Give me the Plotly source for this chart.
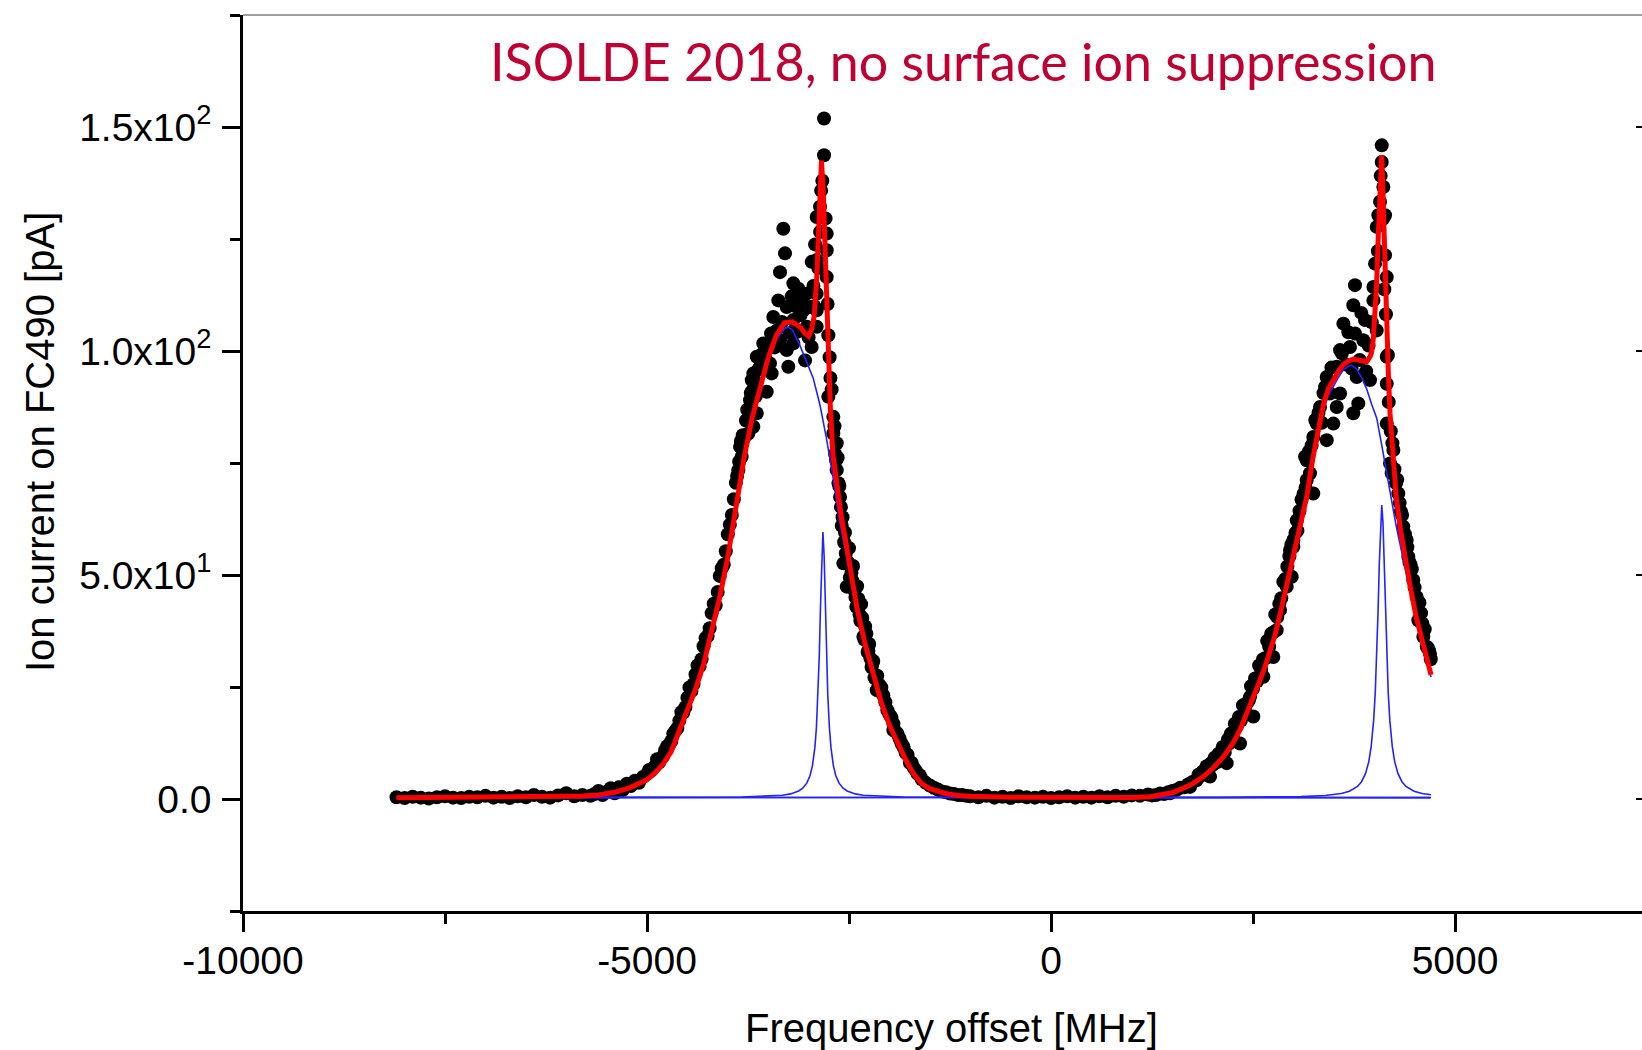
import plotly.graph_objects as go

# ---------------- measured scan (frequency offset MHz, ion current pA) ----------------
scan_left_baseline = [
    (-8100, 0.4), (-8000, 0.2), (-7900, 0.5), (-7800, 0.3), (-7700, 0.1), (-7600, 0.4),
    (-7500, 0.6), (-7400, 0.3), (-7300, 0.2), (-7200, 0.5), (-7100, 0.4), (-7000, 0.7),
    (-6900, 0.3), (-6800, 0.5), (-6700, 0.2), (-6600, 0.6), (-6500, 0.4), (-6400, 0.9),
    (-6300, 0.5), (-6200, 0.3), (-6100, 0.8), (-6000, 1.3), (-5900, 0.6), (-5800, 0.9),
    (-5700, 0.7),
]
scan_left_peak = [
    (-5650, 1.1), (-5600, 1.8), (-5550, 0.9), (-5500, 1.6), (-5450, 2.4), (-5400, 1.3),
    (-5350, 2.6), (-5300, 2.0), (-5250, 3.4), (-5200, 2.9), (-5150, 4.1), (-5100, 3.6),
    (-5050, 4.9), (-5000, 5.6), (-4950, 6.3), (-4900, 7.4), (-4850, 8.2), (-4800, 9.6),
    (-4750, 11.8), (-4700, 12.9), (-4650, 15.2), (-4600, 17.5), (-4550, 19.3), (-4500, 22.6),
    (-4450, 24.1), (-4400, 27.8), (-4350, 29.6), (-4300, 34.1), (-4250, 36.4), (-4200, 41.5),
    (-4150, 43.2), (-4100, 49.8), (-4050, 52.3), (-4000, 59.1), (-3950, 63.4), (-3900, 70.6),
    (-3870, 73.4), (-3849, 78.6), (-3828, 76.4), (-3800, 80.5), (-3746, 81.6), (-3725, 89.0),
    (-3704, 93.5), (-3684, 83.1), (-3684, 95.0), (-3642, 86.1), (-3642, 98.7), (-3600, 96.5),
    (-3561, 101.7), (-3519, 90.9), (-3478, 97.2), (-3457, 95.0), (-3437, 107.6), (-3400, 104.5),
    (-3375, 111.3), (-3354, 102.4), (-3354, 117.6), (-3313, 127.3), (-3292, 121.8), (-3271, 100.2),
    (-3271, 109.8), (-3251, 96.5), (-3230, 104.0), (-3189, 101.7), (-3189, 106.9), (-3189, 115.1),
    (-3160, 110.0), (-3127, 113.9), (-3100, 108.0), (-3065, 109.1), (-3044, 97.9), (-3023, 105.4),
    (-3023, 112.8), (-3000, 103.0), (-2962, 100.9), (-2962, 119.9), (-2930, 110.0), (-2900, 105.4),
    (-2900, 109.1), (-2900, 112.8), (-2900, 120.3), (-2900, 129.9), (-2859, 126.6), (-2859, 132.2),
    (-2830, 138.0), (-2809, 143.7), (-2809, 151.9), (-2776, 116.5), (-2776, 122.5), (-2776, 126.2),
    (-2756, 103.5), (-2756, 89.8), (-2730, 94.0), (-2694, 85.3), (-2694, 81.6), (-2673, 77.1),
    (-2652, 79.4), (-2652, 73.4), (-2630, 70.5), (-2611, 67.4), (-2590, 61.0), (-2570, 52.6),
    (-2550, 59.5), (-2528, 47.4), (-2500, 56.0), (-2470, 50.5), (-2450, 52.0), (-2420, 45.0),
    (-2400, 47.5), (-2370, 41.2), (-2350, 43.5), (-2322, 36.2), (-2300, 38.5), (-2270, 32.8),
    (-2250, 34.6), (-2220, 29.4), (-2200, 30.8), (-2157, 24.3), (-2150, 27.5), (-2100, 24.9),
    (-2050, 21.6), (-2000, 18.9), (-1952, 15.4), (-1950, 16.8), (-1900, 14.6), (-1850, 12.4),
    (-1800, 10.3), (-1745, 8.0), (-1700, 7.0), (-1650, 5.6), (-1600, 4.4), (-1550, 3.6),
    (-1500, 3.0), (-1450, 2.5), (-1400, 2.1), (-1350, 1.7), (-1300, 1.5), (-1250, 1.2),
    (-1200, 1.1), (-1150, 0.9), (-1100, 0.9), (-1050, 0.7),
]
scan_left_peak_fill = [
    (-4975, 6.5), (-4925, 6.9), (-4875, 8.9), (-4825, 9.1), (-4775, 10.9), (-4725, 12.1),
    (-4675, 14.6), (-4625, 15.8), (-4575, 19.4), (-4525, 20.5), (-4475, 24.9), (-4425, 25.6),
    (-4375, 29.8), (-4325, 31.2), (-4275, 35.9), (-4225, 38.1), (-4175, 43.6), (-4125, 46.2),
    (-4075, 51.5), (-4025, 55.3), (-3975, 61.2), (-3925, 66.9), (-3885, 72.1), (-3860, 75.3),
    (-3838, 79.9), (-3815, 81.2), (-3775, 84.5), (-3760, 86.9), (-3735, 85.7), (-3715, 90.6),
    (-3695, 91.2), (-3670, 93.4), (-3655, 89.9), (-3625, 95.8), (-3585, 99.2), (-3540, 98.4),
    (-3500, 101.3), (-3465, 103.9), (-3420, 100.8), (-3330, 106.5), (-3210, 112.2), (-3140, 104.3),
    (-3085, 111.6), (-2985, 109.8), (-2940, 114.5), (-2920, 123.8), (-2880, 118.5), (-2845, 135.8),
    (-2790, 129.6), (-2765, 110.5), (-2740, 98.6), (-2715, 91.4), (-2680, 83.2), (-2660, 75.6),
    (-2640, 76.2), (-2620, 69.8), (-2600, 65.2), (-2580, 62.9), (-2560, 57.3), (-2540, 54.8),
    (-2515, 52.9), (-2490, 49.4), (-2460, 48.8), (-2435, 46.6), (-2410, 42.9), (-2385, 44.7),
    (-2360, 39.8), (-2335, 40.4), (-2310, 35.6), (-2285, 36.9), (-2260, 33.1), (-2235, 31.4),
    (-2210, 30.3), (-2185, 27.1), (-2170, 26.8), (-2125, 25.5), (-2075, 23.1), (-2025, 19.8),
    (-1975, 18.2), (-1925, 15.1), (-1875, 13.5), (-1825, 11.6), (-1775, 9.9), (-1725, 8.1),
    (-1675, 6.4), (-1625, 5.3),
]
scan_middle_baseline = [
    (-1000, 0.6), (-900, 0.4), (-800, 0.7), (-700, 0.3), (-600, 0.5), (-500, 0.2),
    (-400, 0.6), (-300, 0.4), (-200, 0.3), (-100, 0.5), (0, 0.2), (100, 0.4),
    (200, 0.6), (300, 0.3), (400, 0.5), (500, 0.3), (600, 0.6), (700, 0.4),
    (800, 0.7), (900, 0.5), (1000, 0.8), (1100, 0.7), (1200, 1.0),
]
scan_right_peak = [
    (1250, 0.8), (1300, 0.9), (1350, 1.2), (1400, 1.1), (1450, 1.5), (1473, 1.3),
    (1500, 1.8), (1550, 2.0), (1600, 2.5), (1650, 2.6), (1700, 3.3), (1720, 2.7),
    (1750, 3.8), (1800, 4.2), (1850, 5.1), (1900, 5.6), (1950, 6.7), (1968, 5.0),
    (2000, 7.6), (2050, 8.2), (2100, 9.7), (2150, 10.4), (2174, 8.0), (2200, 12.3),
    (2250, 13.9), (2300, 16.2), (2339, 12.4), (2350, 17.5), (2400, 19.8), (2450, 22.1),
    (2463, 22.8), (2500, 24.6), (2504, 18.4), (2550, 26.3), (2600, 28.9), (2628, 27.3),
    (2650, 31.4), (2700, 34.0), (2751, 31.7), (2750, 37.2), (2793, 37.7), (2800, 40.6),
    (2834, 42.2), (2850, 44.8), (2900, 49.1), (2917, 47.4), (2950, 54.2), (2958, 55.6),
    (2979, 49.6), (2999, 57.8), (3000, 56.3), (3041, 62.2), (3050, 59.9), (3100, 66.8),
    (3144, 76.4), (3150, 69.5), (3164, 75.6), (3164, 71.2), (3205, 72.7), (3246, 80.8),
    (3246, 68.2), (3288, 83.8), (3329, 87.5), (3350, 84.0), (3391, 92.0), (3412, 94.2),
    (3412, 80.1), (3450, 90.5), (3494, 83.8), (3536, 96.5), (3536, 87.5), (3577, 100.2),
    (3577, 90.5), (3618, 106.1), (3650, 97.0), (3700, 100.9), (3741, 110.2), (3741, 86.1),
    (3762, 114.7), (3762, 103.9), (3783, 94.2), (3803, 88.3), (3820, 98.0), (3865, 102.4),
    (3886, 106.9), (3900, 95.5), (3948, 93.5), (3990, 114.3), (3990, 111.3), (4010, 119.5),
    (4031, 127.7), (4031, 104.6), (4051, 130.3), (4072, 133.3), (4093, 142.2), (4093, 145.9),
    (4113, 136.6), (4134, 130.3), (4134, 121.4), (4155, 116.5), (4155, 98.7), (4155, 92.7),
    (4155, 83.8), (4196, 74.9), (4216, 72.7), (4237, 77.9), (4270, 70.5), (4298, 68.2),
    (4330, 64.2), (4360, 60.8), (4402, 57.8), (4422, 54.1), (4450, 52.3), (4484, 48.9),
    (4526, 45.1), (4546, 39.9), (4580, 41.5), (4608, 36.2), (4650, 34.0), (4680, 33.1),
    (4700, 31.2),
]
scan_right_peak_fill = [
    (1825, 5.4), (1875, 6.1), (1925, 7.3), (1975, 7.9), (2025, 9.2), (2075, 10.1),
    (2125, 11.6), (2190, 13.3), (2225, 14.6), (2275, 16.8), (2325, 18.3), (2375, 20.9),
    (2425, 21.4), (2475, 25.2), (2525, 26.9), (2575, 29.8), (2625, 31.2), (2675, 35.3),
    (2725, 36.9), (2775, 41.2), (2825, 43.6), (2875, 48.5), (2925, 51.9), (2975, 56.8),
    (3025, 59.4), (3075, 64.3), (3125, 68.1), (3190, 77.5), (3225, 78.9), (3270, 84.6),
    (3310, 86.2), (3372, 90.6), (3470, 96.3), (3600, 99.5), (3680, 104.2), (3720, 96.1),
    (3840, 108.5), (3930, 101.2), (3970, 106.4), (4045, 122.3), (4080, 139.1), (4110, 129.5),
    (4125, 113.8), (4145, 108.2), (4170, 99.1), (4180, 88.6), (4205, 82.1), (4225, 79.4),
    (4250, 73.6), (4285, 71.3), (4315, 66.1), (4345, 63.4), (4380, 59.1), (4410, 56.2),
    (4435, 52.9), (4465, 51.3), (4500, 47.2), (4560, 43.8), (4595, 39.2), (4625, 37.9),
    (4665, 33.7), (4690, 32.4),
]

# ---------------- total fit (red) ----------------
fit_total = [
    (-8100, 0.3), (-7000, 0.35), (-6500, 0.4), (-6000, 0.5), (-5800, 0.65), (-5600, 0.9),
    (-5400, 1.5), (-5200, 2.6), (-5000, 4.3), (-4900, 5.8), (-4800, 7.8), (-4700, 10.6),
    (-4600, 15.0), (-4500, 19.5), (-4400, 24.5), (-4300, 30.0), (-4200, 37.0), (-4100, 45.0),
    (-4000, 54.0), (-3900, 65.0), (-3800, 76.0), (-3700, 85.0), (-3600, 92.0), (-3500, 98.5),
    (-3400, 103.5), (-3300, 106.3), (-3200, 106.5), (-3100, 105.3), (-3050, 104.0), (-3000, 103.3),
    (-2960, 105.0), (-2930, 108.0), (-2900, 116.0), (-2880, 126.0), (-2860, 136.0), (-2841, 142.5),
    (-2820, 136.0), (-2800, 124.0), (-2779, 108.5), (-2755, 96.0), (-2730, 87.0), (-2700, 77.0),
    (-2650, 69.5), (-2600, 63.5), (-2550, 58.5), (-2500, 53.0), (-2400, 42.5), (-2300, 34.5),
    (-2200, 27.5), (-2100, 21.5), (-2000, 16.5), (-1900, 12.6), (-1800, 8.8), (-1700, 5.6),
    (-1600, 3.4), (-1500, 2.3), (-1400, 1.6), (-1300, 1.2), (-1150, 0.8), (-1000, 0.6),
    (-500, 0.4), (0, 0.3), (500, 0.3), (1000, 0.35), (1225, 0.5), (1400, 1.0),
    (1500, 1.4), (1637, 2.4), (1750, 3.4), (1885, 5.0), (2000, 6.8), (2132, 9.4),
    (2250, 12.4), (2339, 15.4), (2420, 18.8), (2504, 22.6), (2580, 26.2), (2648, 29.5),
    (2710, 32.8), (2772, 36.5), (2855, 42.8), (2930, 48.5), (2999, 54.1), (3102, 61.5),
    (3164, 67.4), (3240, 76.0), (3308, 82.4), (3370, 88.0), (3430, 91.5), (3494, 93.8),
    (3560, 95.6), (3618, 97.0), (3680, 97.8), (3741, 98.2), (3800, 98.0), (3845, 97.8),
    (3907, 97.6), (3950, 98.8), (3969, 99.8), (3990, 103.0), (4010, 107.6), (4030, 115.0),
    (4051, 126.0), (4072, 137.0), (4093, 143.7), (4107, 136.0), (4121, 126.0), (4138, 114.0),
    (4155, 104.0), (4175, 95.0), (4196, 86.0), (4237, 75.0), (4271, 67.5), (4330, 59.5),
    (4395, 52.3), (4450, 47.0), (4518, 40.7), (4600, 34.5), (4650, 31.0), (4703, 27.7),
]

# ---------------- fit components (blue) ----------------
comp_left_broad = [
    (-8100, 0.3), (-6500, 0.38), (-6000, 0.45), (-5600, 0.75), (-5400, 1.3), (-5200, 2.4),
    (-5000, 4.1), (-4900, 5.5), (-4800, 7.5), (-4700, 10.3), (-4600, 14.6), (-4500, 19.1),
    (-4400, 24.1), (-4300, 29.6), (-4200, 36.5), (-4100, 44.5), (-4000, 53.5), (-3900, 64.5),
    (-3800, 75.4), (-3700, 84.4), (-3600, 91.3), (-3500, 97.7), (-3400, 102.5), (-3300, 105.0),
    (-3250, 105.3), (-3200, 104.7), (-3109, 101.3), (-3030, 98.0), (-2944, 94.0), (-2860, 88.0),
    (-2779, 80.5), (-2700, 72.0), (-2615, 62.0), (-2512, 52.3), (-2400, 41.4), (-2300, 33.8),
    (-2200, 27.0), (-2100, 21.1), (-2000, 16.2), (-1900, 12.3), (-1800, 8.5), (-1700, 5.4),
    (-1600, 3.2), (-1500, 2.1), (-1400, 1.4), (-1300, 1.0), (-1000, 0.5), (-500, 0.35),
    (0, 0.3), (4700, 0.3),
]
comp_left_narrow = [
    (-8100, 0.31), (-6000, 0.32), (-4800, 0.33), (-3823, 0.44), (-3323, 0.84), (-3223, 1.14),
    (-3123, 1.78), (-3073, 2.41), (-3023, 3.53), (-2983, 5.2), (-2953, 7.4), (-2923, 11.4),
    (-2903, 16.0), (-2883, 23.4), (-2868, 31.9), (-2853, 43.0), (-2838, 54.3), (-2823, 59.6),
    (-2808, 54.3), (-2793, 43.0), (-2778, 31.9), (-2763, 23.4), (-2743, 16.0), (-2723, 11.4),
    (-2693, 7.4), (-2663, 5.2), (-2623, 3.53), (-2573, 2.41), (-2523, 1.78), (-2423, 1.14),
    (-2323, 0.84), (-1823, 0.44), (-800, 0.34), (4700, 0.31),
]
comp_right_broad = [
    (-8100, 0.3), (0, 0.3), (800, 0.35), (1225, 0.5), (1400, 0.95), (1637, 2.3),
    (1885, 4.8), (2132, 9.2), (2339, 15.2), (2504, 22.4), (2648, 29.3), (2772, 36.3),
    (2855, 42.5), (2930, 48.0), (2999, 53.5), (3102, 60.8), (3164, 66.5), (3240, 75.0),
    (3308, 81.3), (3370, 86.7), (3430, 90.0), (3494, 92.2), (3560, 94.2), (3618, 95.8),
    (3680, 96.6), (3720, 96.8), (3783, 96.0), (3850, 93.8), (3907, 91.5), (3970, 88.0),
    (4031, 85.0), (4093, 79.0), (4155, 72.5), (4210, 66.5), (4271, 61.0), (4330, 56.0),
    (4395, 50.5), (4450, 45.5), (4518, 39.8), (4610, 33.0), (4703, 27.2),
]
comp_right_narrow = [
    (-8100, 0.31), (0, 0.33), (2093, 0.36), (3093, 0.53), (3393, 0.78), (3593, 1.23),
    (3693, 1.74), (3793, 2.81), (3843, 3.86), (3893, 5.7), (3933, 8.35), (3963, 11.8),
    (3993, 17.6), (4013, 23.8), (4033, 32.95), (4048, 42.1), (4063, 52.5), (4078, 61.8),
    (4093, 65.6), (4108, 61.8), (4123, 52.5), (4138, 42.1), (4153, 32.95), (4173, 23.8),
    (4193, 17.6), (4223, 11.8), (4253, 8.35), (4293, 5.7), (4343, 3.86), (4393, 2.81),
    (4493, 1.74), (4593, 1.23), (4703, 0.93),
]

y_tick_values = [0, 50, 100, 150]
y_tick_labels = ["0.0", "5.0x10<sup>1</sup>", "1.0x10<sup>2</sup>", "1.5x10<sup>2</sup>"]
x_tick_values = [-10000, -5000, 0, 5000]
x_tick_labels = ["-10000", "-5000", "0", "5000"]

title_text = "ISOLDE 2018, no surface ion suppression"
x_title = "Frequency offset [MHz]"
y_title = "Ion current on FC490 [pA]"

FONT = "Liberation Sans, Arial, sans-serif"
W, H = 1642, 1050
L, R, T, B = 243, 0, 15, 139


def unzip(pairs):
    return [p[0] for p in pairs], [p[1] for p in pairs]


scan = (scan_left_baseline + scan_left_peak + scan_left_peak_fill + scan_middle_baseline
        + scan_right_peak + scan_right_peak_fill)
sx, sy = unzip(scan)

fig = go.Figure()
fig.add_trace(go.Scatter(x=sx, y=sy, mode="markers",
                         marker=dict(color="black", size=14, line=dict(width=0)),
                         showlegend=False, hoverinfo="skip"))
for comp in (comp_left_broad, comp_left_narrow, comp_right_broad, comp_right_narrow):
    cx, cy = unzip(comp)
    fig.add_trace(go.Scatter(x=cx, y=cy, mode="lines",
                             line=dict(color="rgb(35,35,255)", width=1.6),
                             showlegend=False, hoverinfo="skip"))
fx, fy = unzip(fit_total)
fig.add_trace(go.Scatter(x=fx, y=fy, mode="lines", yaxis="y2",
                         line=dict(color="#ff0000", width=5),
                         showlegend=False, hoverinfo="skip"))

axis_common = dict(showgrid=False, zeroline=False, linecolor="black", linewidth=2.5,
                   ticks="outside", tickwidth=2.5, tickcolor="black", ticklen=18,
                   tickfont=dict(family=FONT, size=39, color="black"))

fig.update_layout(
    width=W, height=H, margin=dict(l=L, r=R, t=T, b=B, pad=0),
    paper_bgcolor="white", plot_bgcolor="white", showlegend=False,
    xaxis=dict(range=[-10000, 7314], tickmode="array", tickvals=x_tick_values,
               ticktext=x_tick_labels, showline=True, ticklabelstandoff=-5,
               minor=dict(tickmode="linear", tick0=0, dtick=2500, ticks="outside",
                          ticklen=10, tickwidth=2.5, tickcolor="black"),
               **axis_common),
    yaxis=dict(range=[-25, 175], tickmode="array", tickvals=y_tick_values,
               ticktext=y_tick_labels, showline=True, ticklabelstandoff=3,
               minor=dict(tickmode="linear", tick0=0, dtick=25, ticks="outside",
                          ticklen=10, tickwidth=2.5, tickcolor="black"),
               **axis_common),
    yaxis2=dict(range=[-25, 175], overlaying="y", side="right", tickmode="array",
                tickvals=y_tick_values, ticks="inside", ticklen=6, tickwidth=2,
                tickcolor="black", showticklabels=False, showline=False,
                showgrid=False, zeroline=False),
    shapes=[dict(type="line", xref="paper", yref="paper", x0=0, x1=1, y0=1, y1=1,
                 line=dict(color="#7f7f7f", width=1.5), layer="above")],
    annotations=[
        dict(text=title_text, xref="paper", yref="paper", x=0.5147, y=0.949,
             xanchor="center", yanchor="middle", showarrow=False,
             font=dict(family="Lato, Open Sans, sans-serif", size=52, color="#c00032")),
        dict(text=x_title, xref="paper", yref="paper", x=(951 - L) / (W - L - R),
             y=(H - B - 1028) / (H - T - B), xanchor="center", yanchor="middle",
             showarrow=False, font=dict(family=FONT, size=40, color="black")),
        dict(text=y_title, xref="paper", yref="paper", x=(40 - L) / (W - L - R),
             y=(H - B - 442) / (H - T - B), xanchor="center", yanchor="middle",
             textangle=-90, showarrow=False,
             font=dict(family=FONT, size=40, color="black")),
    ],
)

fig.write_html("out.html")
